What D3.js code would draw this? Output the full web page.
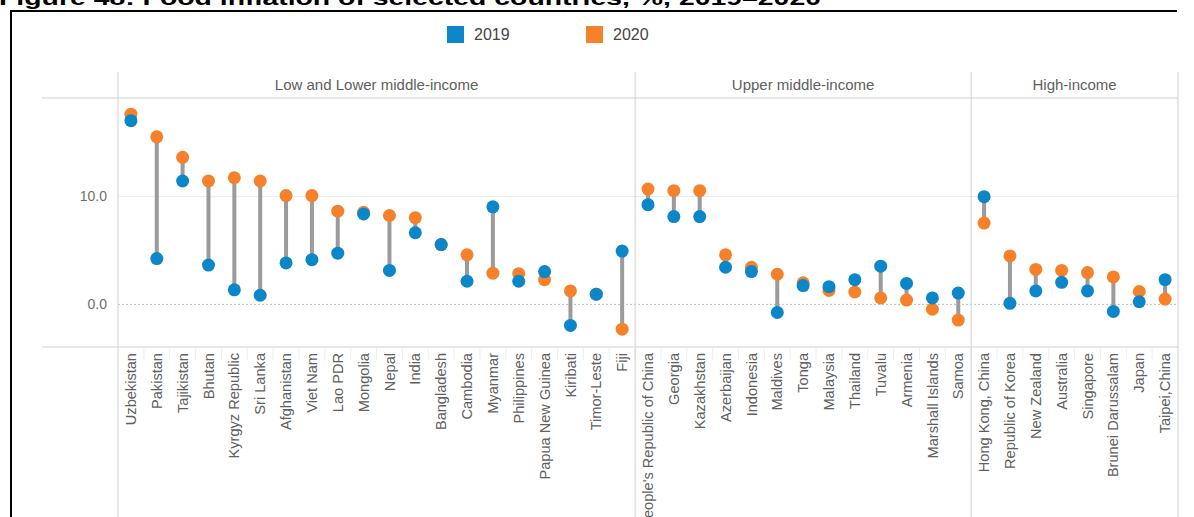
<!DOCTYPE html>
<html>
<head>
<meta charset="utf-8">
<script src="https://cdn.jsdelivr.net/npm/d3@7"></script>
<style>
  body { margin: 0; background: #fff; }
  svg { display: block; }
  text { font-family: "Liberation Sans", Arial, sans-serif; }
</style>
</head>
<body>
<div id="chart"></div>
<script>
(function(d3) {

var countries = ['Uzbekistan', 'Pakistan', 'Tajikistan', 'Bhutan', 'Kyrgyz Republic', 'Sri Lanka',
  'Afghanistan', 'Viet Nam', 'Lao PDR', 'Mongolia', 'Nepal', 'India', 'Bangladesh', 'Cambodia',
  'Myanmar', 'Philippines', 'Papua New Guinea', 'Kiribati', 'Timor-Leste', 'Fiji',
  "People's Republic of China", 'Georgia', 'Kazakhstan', 'Azerbaijan', 'Indonesia', 'Maldives',
  'Tonga', 'Malaysia', 'Thailand', 'Tuvalu', 'Armenia', 'Marshall Islands', 'Samoa',
  'Hong Kong, China', 'Republic of Korea', 'New Zealand', 'Australia', 'Singapore',
  'Brunei Darussalam', 'Japan', 'Taipei,China'];

var groupNames = ['Low and Lower middle-income', 'Upper middle-income', 'High-income'];
var groupSizes = [20, 13, 8];

var values2019 = [17.0, 4.2, 11.4, 3.6, 1.3, 0.8, 3.8, 4.1, 4.7, 8.35, 3.1, 6.6, 5.5, 2.1,
  9.0, 2.1, 3.0, -2.0, 0.9, 4.9,
  9.2, 8.1, 8.1, 3.4, 3.0, -0.8, 1.7, 1.6, 2.25, 3.5, 1.9, 0.55, 1.0,
  9.95, 0.05, 1.2, 2.0, 1.2, -0.7, 0.2, 2.25];

var values2020 = [17.6, 15.5, 13.6, 11.4, 11.7, 11.4, 10.05, 10.05, 8.6, 8.5, 8.2, 8.0, 5.5, 4.55,
  2.85, 2.8, 2.25, 1.2, 0.9, -2.35,
  10.65, 10.5, 10.5, 4.55, 3.4, 2.75, 1.95, 1.25, 1.1, 0.55, 0.35, -0.5, -1.5,
  7.5, 4.45, 3.2, 3.1, 2.9, 2.5, 1.15, 0.45];

var yTicks = [0, 10];
var seriesNames = ['2019', '2020'];

var width = 1194;
var height = 517;
var blue = '#0a86c9';
var orange = '#f5822a';

var svg = d3.select('#chart')
  .append('svg')
  .attr('width', width)
  .attr('height', height);

// clipped figure title + black frame
svg.append('text')
  .attr('x', -1)
  .attr('y', 5)
  .attr('textLength', 822)
  .attr('lengthAdjust', 'spacingAndGlyphs')
  .style('font-size', '21px')
  .style('font-weight', 'bold')
  .style('fill', '#000')
  .text('Figure 48: Food inflation of selected countries, %, 2019\u20132020');

svg.append('path')
  .attr('d', 'M11,517 V11 H1177')
  .attr('fill', 'none')
  .attr('stroke', '#000')
  .attr('stroke-width', 2);

var x = d3.scaleBand()
  .domain(countries)
  .range([118, 1178]);

var y = d3.scaleLinear()
  .domain([-4, 19.1])
  .range([347, 98]);

// panel boundaries
var bounds = [0];
groupSizes.forEach(function(n, i) { bounds.push(bounds[i] + n); });
var bx = bounds.map(function(b) {
  return b < countries.length ? x(countries[b]) : x.range()[1];
});

// horizontal frame lines
[98, 347].forEach(function(yy) {
  svg.append('line')
    .attr('x1', 42).attr('x2', 1178)
    .attr('y1', yy).attr('y2', yy)
    .attr('stroke', '#d0d0d0');
});

// grid
svg.selectAll('.grid')
  .data(yTicks)
  .enter()
  .append('line')
  .attr('x1', 118).attr('x2', 1178)
  .attr('y1', function(d) { return y(d) + 0.5; })
  .attr('y2', function(d) { return y(d) + 0.5; })
  .attr('stroke', function(d) { return d === 0 ? '#bdbdbd' : '#ececec'; })
  .attr('stroke-dasharray', function(d) { return d === 0 ? '2,2' : null; });

// label separators
svg.selectAll('.sep')
  .data(countries.slice(1))
  .enter()
  .append('line')
  .attr('x1', function(d) { return x(d); })
  .attr('x2', function(d) { return x(d); })
  .attr('y1', 347).attr('y2', 360)
  .attr('stroke', '#eeeeee');

// panel verticals
svg.selectAll('.panel')
  .data(bx)
  .enter()
  .append('line')
  .attr('x1', function(d) { return d; })
  .attr('x2', function(d) { return d; })
  .attr('y1', 72).attr('y2', 517)
  .attr('stroke', '#d0d0d0');

// panel headers
svg.selectAll('.header')
  .data(groupNames)
  .enter()
  .append('text')
  .attr('x', function(d, i) { return (bx[i] + bx[i + 1]) / 2; })
  .attr('y', 90)
  .attr('text-anchor', 'middle')
  .style('font-size', '15px')
  .style('fill', '#606060')
  .text(function(d) { return d; });

// y axis labels
svg.selectAll('.ytick')
  .data(yTicks)
  .enter()
  .append('text')
  .attr('x', 107)
  .attr('y', function(d) { return y(d); })
  .attr('dy', '0.35em')
  .attr('text-anchor', 'end')
  .style('font-size', '14px')
  .style('fill', '#707070')
  .text(function(d) { return d3.format('.1f')(d); });

// country labels
svg.selectAll('.clabel')
  .data(countries)
  .enter()
  .append('text')
  .attr('transform', function(d) {
    return 'translate(' + (x(d) + x.bandwidth() / 2) + ',353) rotate(-90)';
  })
  .attr('dy', '0.35em')
  .attr('text-anchor', 'end')
  .style('font-size', '14.6px')
  .style('fill', '#606060')
  .text(function(d) { return d; });

// dumbbells
var rows = countries.map(function(c, i) {
  return { name: c, v19: values2019[i], v20: values2020[i] };
});

var g = svg.append('g');

g.selectAll('.stem')
  .data(rows)
  .enter()
  .append('line')
  .attr('x1', function(d) { return x(d.name) + x.bandwidth() / 2; })
  .attr('x2', function(d) { return x(d.name) + x.bandwidth() / 2; })
  .attr('y1', function(d) { return y(d.v19); })
  .attr('y2', function(d) { return y(d.v20); })
  .attr('stroke', '#9b9b9b')
  .attr('stroke-width', 4);

g.selectAll('.d20')
  .data(rows)
  .enter()
  .append('circle')
  .attr('cx', function(d) { return x(d.name) + x.bandwidth() / 2; })
  .attr('cy', function(d) { return y(d.v20); })
  .attr('r', 6.5)
  .attr('fill', orange);

g.selectAll('.d19')
  .data(rows)
  .enter()
  .append('circle')
  .attr('cx', function(d) { return x(d.name) + x.bandwidth() / 2; })
  .attr('cy', function(d) { return y(d.v19); })
  .attr('r', 6.5)
  .attr('fill', blue);

// legend
var legend = svg.selectAll('.legend')
  .data(seriesNames)
  .enter()
  .append('g')
  .attr('transform', function(d, i) { return 'translate(' + (447 + i * 139) + ',26)'; });

legend.append('rect')
  .attr('width', 17)
  .attr('height', 17)
  .style('fill', function(d, i) { return i === 0 ? blue : orange; });

legend.append('text')
  .attr('x', 27)
  .attr('y', 14)
  .style('font-size', '16px')
  .style('fill', '#444')
  .text(function(d) { return d; });

})(window.d3);
</script>
</body>
</html>
